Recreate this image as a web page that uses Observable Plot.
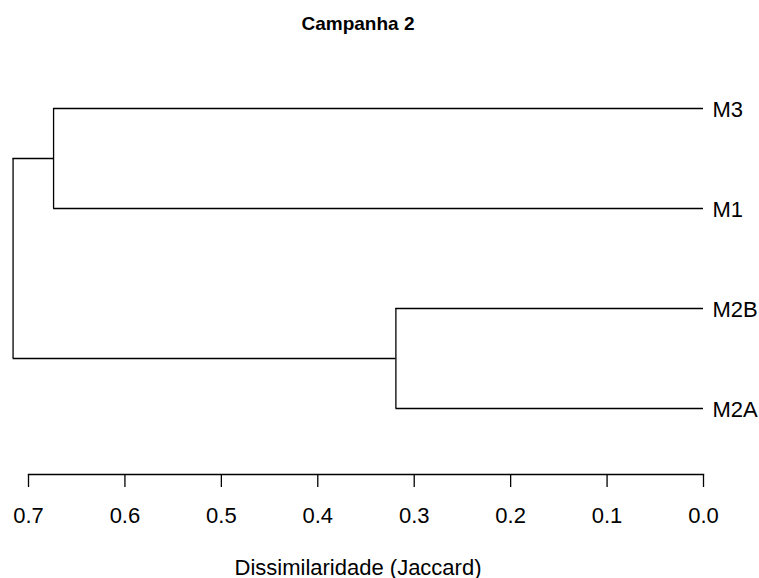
<!DOCTYPE html>
<html>
<head>
<meta charset="utf-8">
<script src="https://cdn.jsdelivr.net/npm/d3@7"></script>
<script src="https://cdn.jsdelivr.net/npm/@observablehq/plot@0.6"></script>
<style>
  html, body { margin: 0; padding: 0; background: #fff; }
</style>
</head>
<body>
<div id="chart"></div>
<script>
const titleText = ["Campanha 2"];
const xLabelText = ["Dissimilaridade (Jaccard)"];
const leaves = ["M3", "M1", "M2B", "M2A"];
const mergeName = ["C1", "C2", "Root"];
const mergeLeft = ["M3", "M2B", "C1"];
const mergeRight = ["M1", "M2A", "C2"];
const mergeHeight = [0.674, 0.319, 0.716];
const xTicks = [0.7, 0.6, 0.5, 0.4, 0.3, 0.2, 0.1, 0.0];

// build node positions
const node = new Map();
leaves.forEach((name, i) => node.set(name, {h: 0, y: i + 1}));
const verticals = [];
const horizontals = [];
mergeName.forEach((name, i) => {
  const a = node.get(mergeLeft[i]), b = node.get(mergeRight[i]);
  const h = mergeHeight[i];
  verticals.push({x: h, y1: a.y, y2: b.y});
  horizontals.push({x1: a.h, x2: h, y: a.y});
  horizontals.push({x1: b.h, x2: h, y: b.y});
  node.set(name, {h, y: (a.y + b.y) / 2});
});
const leafData = leaves.map((name, i) => ({name, x: 0, y: i + 1}));

const font = "'Liberation Sans', Arial, sans-serif";
const chart = Plot.plot({
  width: 759,
  height: 578,
  marginLeft: 28,
  marginRight: 56,
  marginTop: 108,
  marginBottom: 104,
  style: {fontFamily: font, fontSize: "22px", background: "#fff", color: "#000"},
  x: {domain: [0.7, 0], ticks: xTicks, tickFormat: d3.format(".1f")},
  y: {domain: [1, 4], reverse: true, insetBottom: 66, axis: null},
  marks: [
    Plot.ruleX(verticals, {x: "x", y1: "y1", y2: "y2", stroke: "#000", strokeWidth: 1.3}),
    Plot.ruleY(horizontals, {y: "y", x1: "x1", x2: "x2", stroke: "#000", strokeWidth: 1.3}),
    Plot.text(leafData, {x: "x", y: "y", text: "name", textAnchor: "start", dx: 9, dy: 1, fontSize: 22, fill: "#000"}),
    Plot.frame({anchor: "bottom", stroke: "#000", strokeWidth: 1.3}),
    Plot.axisX({ticks: xTicks, tickFormat: d3.format(".1f"), tickSize: 13, tickPadding: 20, label: null, stroke: "#000", strokeWidth: 1.3, fill: "#000", fontSize: 22}),
    Plot.text(titleText, {text: d => d, frameAnchor: "top", dy: -79, dx: -8, lineAnchor: "bottom", fontWeight: "bold", fontSize: 19, fill: "#000"}),
    Plot.text(xLabelText, {text: d => d, frameAnchor: "bottom", dy: 100, dx: -8, lineAnchor: "bottom", fontSize: 22, fill: "#000"})
  ]
});
document.getElementById("chart").appendChild(chart);
</script>
</body>
</html>
